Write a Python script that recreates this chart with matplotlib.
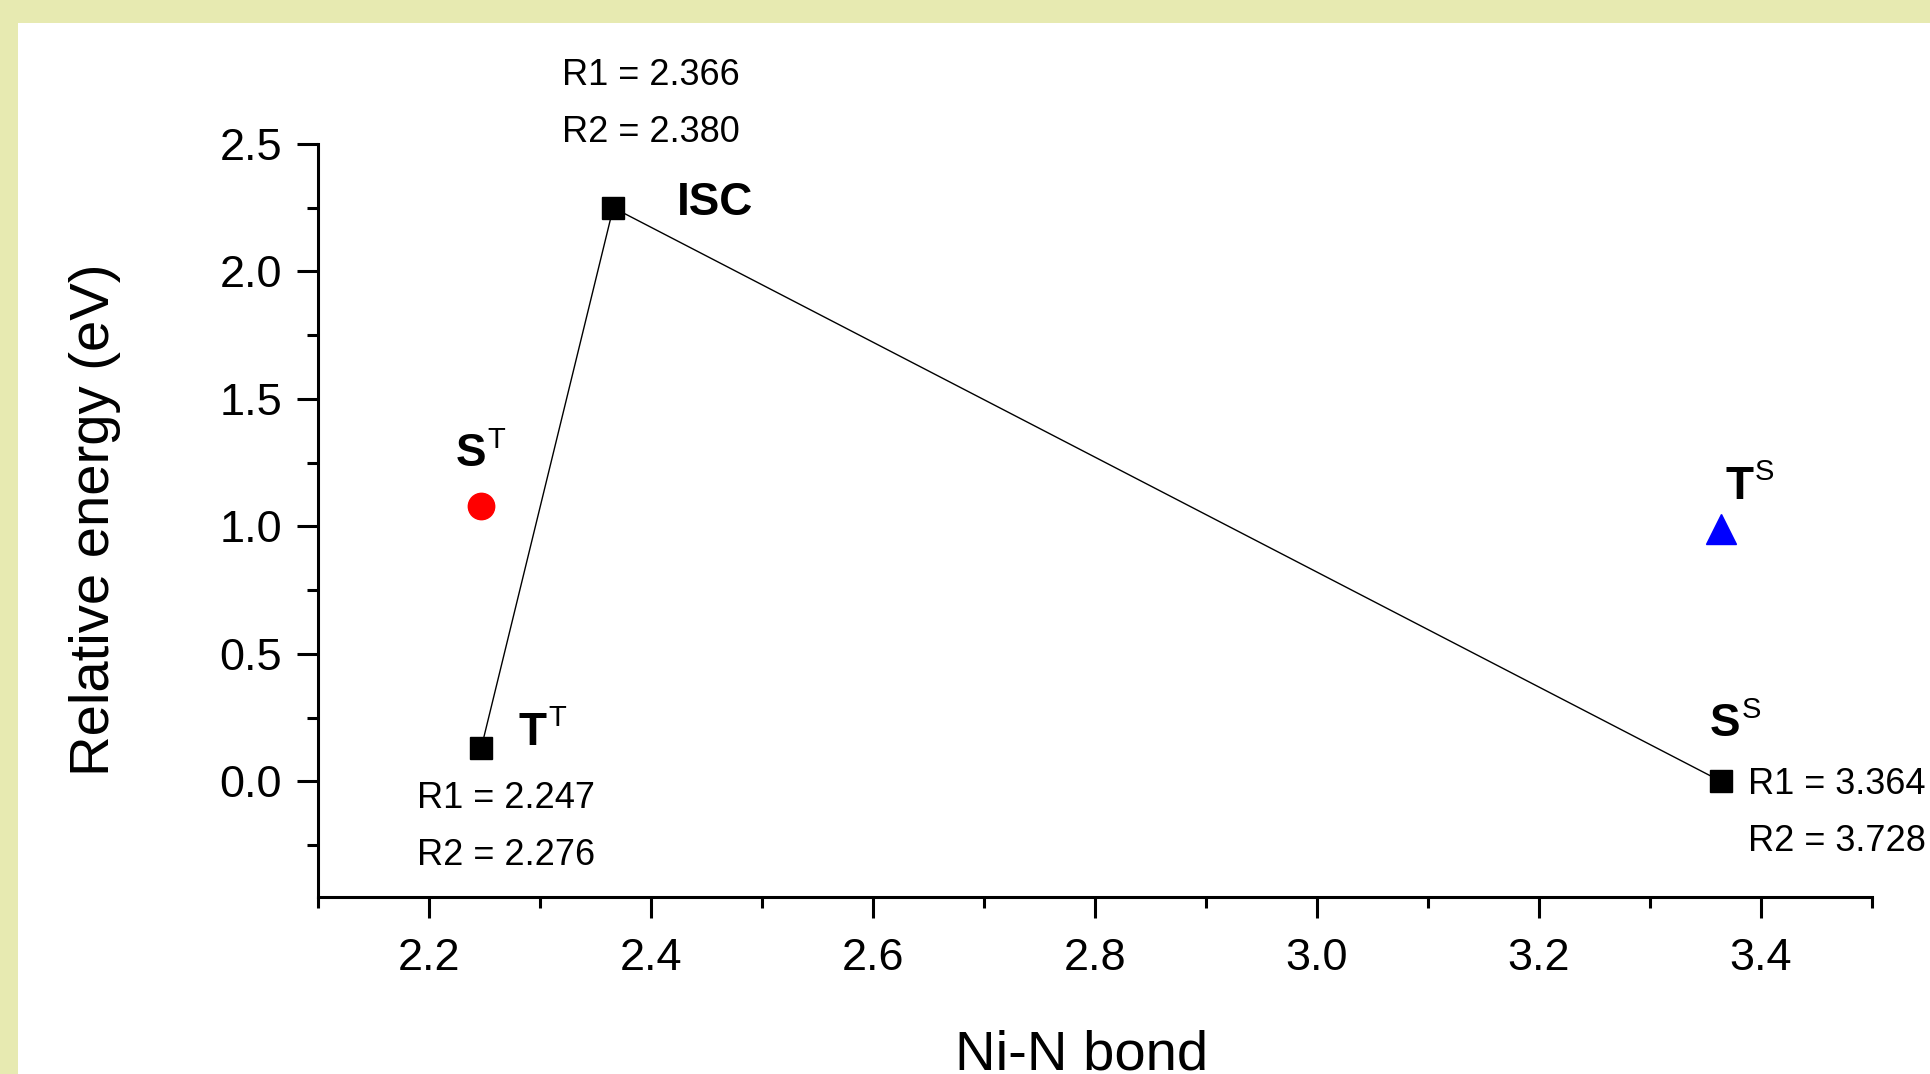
import matplotlib

matplotlib.use("Agg")
import matplotlib.pyplot as plt
from matplotlib.patches import Rectangle
from matplotlib.ticker import MultipleLocator, FormatStrFormatter

plt.rcParams["font.family"] = ["Liberation Sans", "DejaVu Sans"]

# reaction path T^T -> ISC -> S^S (Ni-N bond in Angstrom, energy in eV)
path_bond = [2.247, 2.366, 3.364]
path_energy = [0.13, 2.25, 0.0]
# vertical states
st_bond, st_energy = [2.247], [1.08]     # S^T, singlet at triplet geometry
ts_bond, ts_energy = [3.364], [0.99]     # T^S, triplet at singlet geometry

# state labels: (base, superscript, x, y baseline)
state_labels = [
    ("ISC", "", 2.423, 2.222),
    ("S", "T", 2.224, 1.236),
    ("T", "T", 2.281, 0.144),
    ("T", "S", 3.368, 1.109),
    ("S", "S", 3.354, 0.176),
]
# bond length notes: (text, x, y baseline)
bond_notes = [
    ("R1 = 2.366", 2.320, 2.732),
    ("R2 = 2.380", 2.320, 2.509),
    ("R1 = 2.247", 2.189, -0.103),
    ("R2 = 2.276", 2.189, -0.330),
    ("R1 = 3.364", 3.388, -0.050),
    ("R2 = 3.728", 3.388, -0.273),
]

W, H = 1931, 1074
fig = plt.figure(figsize=(W / 100, H / 100), dpi=100)
fig.patch.set_facecolor("#e7eab1")
fig.add_artist(Rectangle((18 / W, 0), 1, (H - 23) / H, transform=fig.transFigure,
                         facecolor="white", edgecolor="none", zorder=0))

ax = fig.add_axes([318 / W, (H - 897.3) / H, (1872 - 318) / W, (897.3 - 144) / H])
ax.patch.set_alpha(0)

ax.plot(path_bond, path_energy, "-", color="black", lw=1.0, zorder=2)
ax.plot(path_bond, path_energy, "s", color="black", ms=16.5, zorder=3)
ax.plot(st_bond, st_energy, "o", color="#ff0000", ms=19, zorder=3)
ax.plot(ts_bond, ts_energy, "^", color="#0000ff", ms=21, zorder=3)

for base, sup, x, y in state_labels:
    t = ax.text(x, y, base, fontsize=33, fontweight="bold", ha="left", va="baseline")
    if sup:
        ax.annotate(sup, xy=(1.0, 1.0), xycoords=t, xytext=(1.0, 4.5),
                    textcoords="offset points", fontsize=21, ha="left", va="top")

for text, x, y in bond_notes:
    ax.text(x, y, text, fontsize=26, ha="left", va="baseline", clip_on=False)

ax.set_xlim(2.1, 3.5)
ax.set_ylim(-0.455, 2.5)
ax.xaxis.set_major_locator(MultipleLocator(0.2))
ax.xaxis.set_minor_locator(MultipleLocator(0.1))
ax.yaxis.set_major_locator(MultipleLocator(0.5))
ax.yaxis.set_minor_locator(MultipleLocator(0.25))
ax.xaxis.set_major_formatter(FormatStrFormatter("%.1f"))
ax.yaxis.set_major_formatter(FormatStrFormatter("%.1f"))

for spine in ("top", "right"):
    ax.spines[spine].set_visible(False)
for spine in ("left", "bottom"):
    ax.spines[spine].set_linewidth(2.2)
ax.tick_params(which="major", direction="out", length=15, width=2.2, labelsize=32.5)
ax.tick_params(which="minor", direction="out", length=8, width=2.2)
ax.tick_params(axis="x", which="major", pad=14)
ax.tick_params(axis="y", which="major", pad=11)

fig.text(1082 / W, (H - 1069.5) / H, "Ni-N bond", fontsize=40.5,
         ha="center", va="baseline")
fig.text(109.5 / W, (H - 519.6) / H, "Relative energy (eV)", fontsize=40.5,
         rotation=90, rotation_mode="anchor", ha="center", va="baseline")

fig.savefig("out.png", dpi=100, facecolor=fig.get_facecolor())
